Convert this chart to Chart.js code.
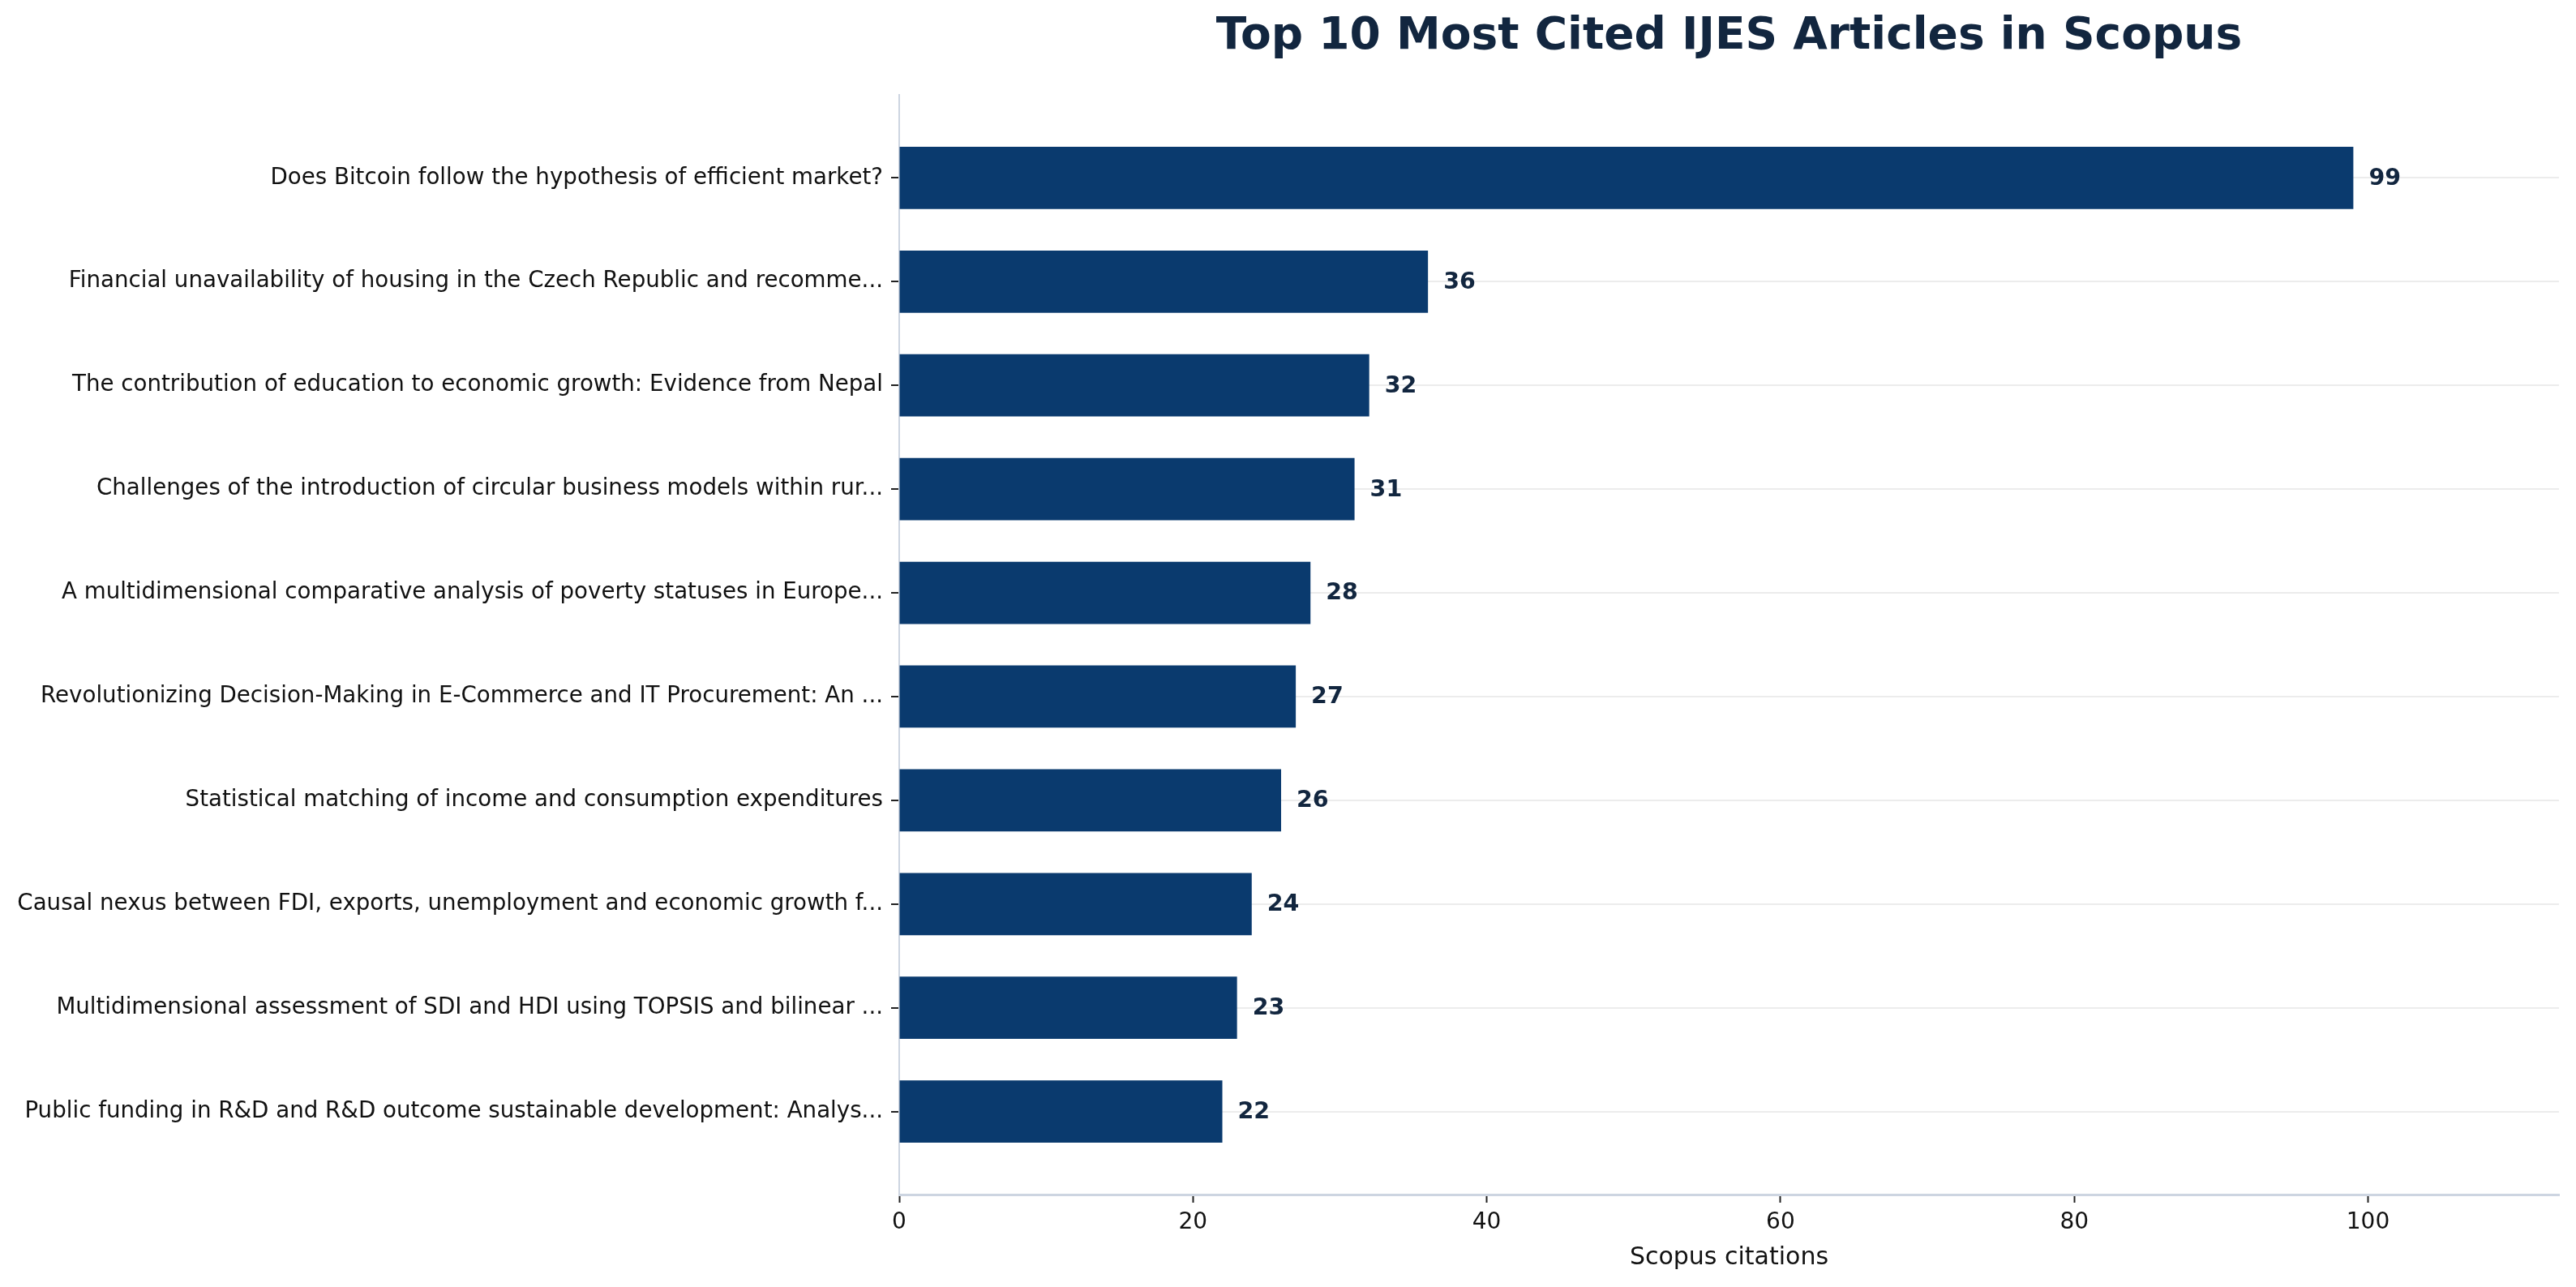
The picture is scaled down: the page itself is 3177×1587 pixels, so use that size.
<!DOCTYPE html>
<html>
<head>
<meta charset="utf-8">
<script src="https://cdn.jsdelivr.net/npm/chart.js@4.4.1/dist/chart.umd.min.js"></script>
<style>
  html, body { margin: 0; padding: 0; background: #fff; }
  #wrap { width: 3177px; height: 1587px; }
</style>
</head>
<body>
<div id="wrap"><canvas id="citas"></canvas></div>
<script>
// Article titles (already truncated as in the chart)
const articles = [
    'Does Bitcoin follow the hypothesis of efficient market?',
    'Financial unavailability of housing in the Czech Republic and recomme...',
    'The contribution of education to economic growth: Evidence from Nepal',
    'Challenges of the introduction of circular business models within rur...',
    'A multidimensional comparative analysis of poverty statuses in Europe...',
    'Revolutionizing Decision-Making in E-Commerce and IT Procurement: An ...',
    'Statistical matching of income and consumption expenditures',
    'Causal nexus between FDI, exports, unemployment and economic growth f...',
    'Multidimensional assessment of SDI and HDI using TOPSIS and bilinear ...',
    'Public funding in R&D and R&D outcome sustainable development: Analys...'
];

// Scopus citations
const citations = [99, 36, 32, 31, 28, 27, 26, 24, 23, 22];

// x tick values
const xTicks = [0, 20, 40, 60, 80, 100];

const fontFamily = "'DejaVu Sans', sans-serif";
const barColor = '#0a3a6e';
const navy = '#12263f';

// title centered over the plot area
const plotTitle = {
    id: 'plotTitle',
    afterDraw(chart) {
        const ctx = chart.ctx;
        const area = chart.chartArea;
        ctx.save();
        ctx.font = 'bold 55px ' + fontFamily;
        ctx.fillStyle = navy;
        ctx.textAlign = 'center';
        ctx.textBaseline = 'middle';
        ctx.fillText('Top 10 Most Cited IJES Articles in Scopus', (area.left + area.right) / 2, 46);
        ctx.restore();
    }
};

// value labels at the end of each bar
const valueLabels = {
    id: 'valueLabels',
    afterDatasetsDraw(chart) {
        const ctx = chart.ctx;
        const meta = chart.getDatasetMeta(0);
        ctx.save();
        ctx.font = 'bold 28.5px ' + fontFamily;
        ctx.fillStyle = navy;
        ctx.textAlign = 'left';
        ctx.textBaseline = 'middle';
        meta.data.forEach(function(bar, i) {
            ctx.fillText(String(citations[i]), bar.x + 19, bar.y + 1);
        });
        ctx.restore();
    }
};

const ctx = document.getElementById('citas');

const data = {
    datasets: [{
        data: citations.map((v, i) => ({ x: v, y: i })),
        backgroundColor: barColor,
        borderWidth: 0,
        barPercentage: 0.6,
        categoryPercentage: 1.0
    }]
};

const config = {
    type: 'bar',
    data: data,
    options: {
        indexAxis: 'y',
        responsive: true,
        maintainAspectRatio: false,
        animation: false,
        devicePixelRatio: 1,
        layout: {
            padding: { top: 117, right: 21, bottom: 0, left: 0 }
        },
        plugins: {
            legend: { display: false },
            title: { display: false },
            tooltip: { enabled: false }
        },
        scales: {
            x: {
                type: 'linear',
                min: 0,
                max: 113,
                afterBuildTicks: function(axis) {
                    axis.ticks = xTicks.map(v => ({ value: v }));
                },
                afterFit: function(axis) {
                    axis.height = 114;
                },
                grid: {
                    drawOnChartArea: false,
                    drawTicks: true,
                    tickLength: 10,
                    tickWidth: 2,
                    tickColor: '#222222'
                },
                border: { display: true, color: '#cdd5e1', width: 3 },
                ticks: {
                    color: '#111111',
                    padding: 8,
                    font: { family: fontFamily, size: 28 },
                    maxRotation: 0
                },
                title: {
                    display: true,
                    text: 'Scopus citations',
                    color: '#111111',
                    font: { family: fontFamily, size: 30 },
                    padding: { top: 4, bottom: 18 }
                }
            },
            y: {
                type: 'linear',
                reverse: true,
                offset: false,
                min: -0.8,
                max: 9.8,
                afterBuildTicks: function(axis) {
                    axis.ticks = articles.map((_, i) => ({ value: i }));
                },
                afterFit: function(axis) {
                    axis.width = 1109;
                },
                grid: {
                    offset: false,
                    color: '#ececec',
                    lineWidth: 2,
                    drawTicks: true,
                    tickLength: 10,
                    tickWidth: 2,
                    tickColor: '#222222'
                },
                border: { display: true, color: '#cdd5e1', width: 2 },
                ticks: {
                    color: '#111111',
                    padding: 10,
                    font: { family: fontFamily, size: 27.7 },
                    callback: function(value) {
                        return articles[value];
                    }
                }
            }
        }
    },
    plugins: [plotTitle, valueLabels]
};

var myChart = new Chart(ctx, config);
</script>
</body>
</html>
